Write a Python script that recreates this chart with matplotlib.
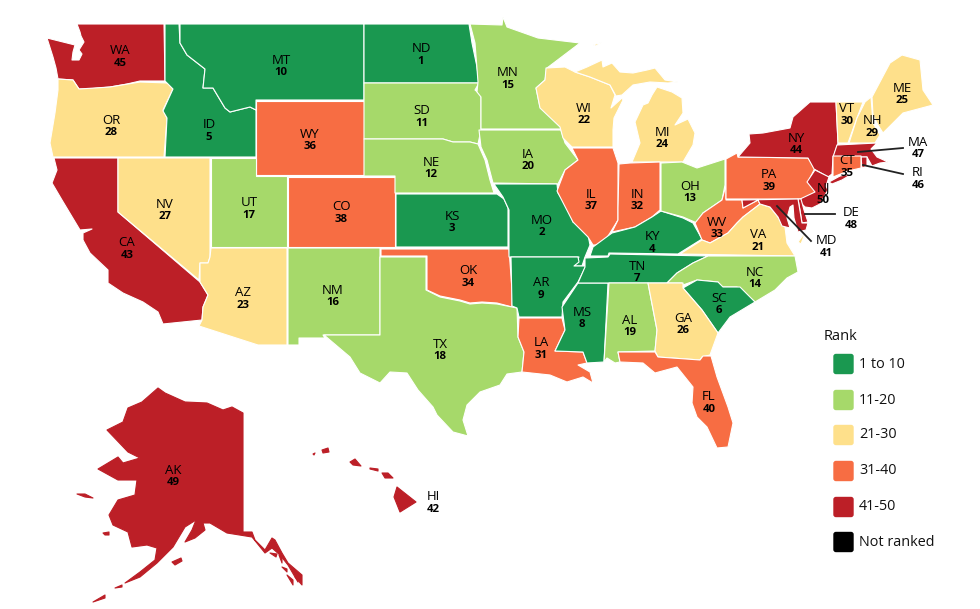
import matplotlib
matplotlib.use("Agg")
import matplotlib.pyplot as plt
from matplotlib.patches import FancyBboxPatch

plt.rcParams['font.family'] = ['Open Sans', 'DejaVu Sans']

# state, rank, label position (pixels of the picture)
states = ['WA','OR','CA','ID','NV','MT','WY','UT','AZ','CO','NM','ND','SD','NE','KS','OK','TX',
          'MN','IA','MO','AR','LA','WI','IL','MS','MI','IN','KY','TN','AL','OH','WV','VA','NC',
          'SC','GA','FL','PA','NY','VT','NH','ME','MA','RI','CT','NJ','DE','MD','AK','HI']
ranks = [45,28,43,5,27,10,36,17,23,38,16,1,11,12,3,34,18,
         15,20,2,9,31,22,37,8,24,32,4,7,19,13,33,21,14,
         6,26,40,39,44,30,29,25,47,46,35,50,48,41,49,42]
label_x = [120,111,127,209,165,281,310,249,243,341,333,421,422,431,452,468,440,
           508,528,542,541,541,584,591,582,662,637,652,637,630,690,717,758,755,
           719,683,709,769,796,847,872,902,918,918,847,823,851,826,173,433]
label_y = [51,120,243,125,204,60,134,203,293,207,290,49,111,162,216,271,344,
           73,154,220,283,343,108,194,312,132,194,237,266,320,186,222,235,272,
           298,318,397,175,138,109,121,88,142,173,161,188,213,241,470,497]

# outlines, pixel coordinates
outlines = {
 'WA': [[(77,24),(164,24),(165,81),(140,81),(127,84),(110,87),(88,89),(79,89),(73,80),(58,79),(56,68),(53,57),(47,38),(63,42),(75,45),(73,52),(72,60),(79,60),(82,54),(79,50),(84,42),(81,36),(80,32)]],
 'OR': [[(58,79),(73,80),(79,89),(110,87),(140,82),(168,83),(173,89),(163,110),(167,118),(164,157),(53,157),(50,143),(55,113),(58,90)]],
 'CA': [[(54,158),(118,158),(118,212),(200,282),(208,295),(203,307),(202,320),(163,324),(158,312),(143,302),(123,293),(108,283),(108,270),(90,253),(83,240),(83,233),(92,229),(80,230),(62,200),(52,183),(57,170)]],
 'ID': [[(165,24),(179,24),(180,43),(187,55),(205,69),(203,88),(213,88),(225,108),(230,112),(250,107),(256,110),(256,157),(165,157),(167,118),(163,111),(173,89),(165,81)]],
 'NV': [[(118,158),(210,158),(210,257),(208,263),(200,263),(199,280),(118,212)]],
 'MT': [[(180,24),(364,24),(364,100),(256,100),(256,110),(250,107),(230,112),(225,108),(213,88),(203,88),(205,69),(187,55),(180,43)]],
 'WY': [[(256,101),(364,101),(364,175),(256,175)]],
 'UT': [[(211,158),(256,158),(256,176),(287,176),(287,247),(211,247)]],
 'AZ': [[(211,248),(287,248),(287,345),(258,345),(199,326),(202,320),(203,307),(208,295),(200,282),(200,263),(208,263),(210,257)]],
 'CO': [[(288,177),(395,177),(395,247),(288,247)]],
 'NM': [[(288,248),(380,248),(380,335),(323,335),(325,338),(299,338),(299,345),(288,345)]],
 'ND': [[(364,24),(469,24),(472,43),(477,67),(479,83),(364,83)]],
 'SD': [[(364,83),(479,83),(475,90),(481,95),(481,130),(478,144),(470,142),(453,142),(443,139),(364,139)]],
 'NE': [[(364,139),(443,139),(453,142),(470,142),(478,144),(485,160),(490,180),(494,193),(395,193),(395,176),(364,176)]],
 'KS': [[(396,194),(497,194),(504,199),(508,208),(508,247),(396,247)]],
 'OK': [[(381,249),(509,249),(512,290),(512,307),(497,303),(482,302),(470,303),(460,300),(440,296),(427,290),(427,256),(381,256)]],
 'TX': [[(380,257),(426,257),(426,290),(440,297),(460,301),(470,304),(482,303),(497,304),(517,308),(518,337),(524,352),(522,372),(507,374),(500,385),(480,392),(467,405),(463,420),(468,436),(453,432),(437,415),(433,407),(418,390),(407,373),(390,372),(380,383),(360,373),(350,357),(324,335),(380,335)]],
 'MN': [[(470,24),(502,25),(503,17),(507,27),(538,38),(580,43),(547,68),(545,80),(536,88),(540,107),(560,122),(561,129),(481,129),(481,97),(477,92),(478,82),(475,43)]],
 'IA': [[(479,130),(561,130),(565,143),(578,160),(565,170),(558,184),(493,183),(487,160),(481,147)]],
 'MO': [[(494,184),(557,184),(558,193),(568,208),(573,222),(587,230),(590,245),(585,257),(582,266),(574,266),(579,257),(509,257),(509,210),(503,197)]],
 'AR': [[(511,257),(578,257),(579,262),(574,266),(586,266),(578,282),(563,302),(562,317),(519,317),(517,308),(512,306)]],
 'LA': [[(519,318),(562,318),(565,330),(555,351),(583,352),(587,363),(578,365),(590,372),(593,383),(583,377),(567,382),(550,375),(522,372),(524,352),(518,337)]],
 'WI': [[(546,68),(565,67),(575,72),(590,77),(610,85),(615,95),(611,108),(622,98),(623,100),(614,118),(613,130),(613,147),(572,147),(563,138),(560,127),(540,108),(536,88),(545,80)]],
 'IL': [[(572,148),(613,148),(618,163),(618,208),(618,220),(610,233),(602,245),(593,245),(588,237),(573,222),(557,191),(565,170),(578,160)]],
 'MS': [[(578,283),(608,283),(604,362),(587,363),(583,352),(555,351),(565,330),(562,307)]],
 'MI': [[(632,162),(640,143),(635,122),(643,105),(648,103),(652,95),(657,87),(672,92),(682,98),(683,113),(675,125),(688,119),(695,133),(693,145),(683,162)],
        [(575,72),(587,67),(602,60),(603,67),(612,63),(620,72),(633,73),(647,70),(655,68),(665,80),(678,82),(668,83),(650,82),(633,85),(622,95),(616,96),(610,85),(590,77)],
        [(593,45),(602,42),(596,46)]],
 'IN': [[(619,164),(630,163),(660,162),(660,210),(652,217),(635,227),(612,232),(618,220),(618,208)]],
 'KY': [[(593,247),(612,233),(635,227),(652,217),(661,211),(683,218),(693,223),(702,239),(678,254),(609,253),(608,256),(590,256)]],
 'TN': [[(585,258),(608,257),(610,254),(708,256),(693,263),(677,273),(667,283),(578,283),(585,267)]],
 'AL': [[(609,283),(648,283),(657,330),(655,351),(618,352),(620,362),(615,363),(607,358),(604,362)]],
 'OH': [[(661,163),(682,162),(697,168),(725,159),(725,185),(722,200),(703,213),(697,223),(683,217),(661,211)]],
 'WV': [[(695,223),(703,213),(722,200),(726,185),(726,200),(742,200),(743,208),(758,200),(760,204),(743,217),(737,223),(728,233),(710,243),(702,240)]],
 'VA': [[(680,254),(702,240),(710,243),(728,233),(737,223),(743,217),(760,204),(770,207),(778,217),(785,227),(787,243),(795,256)],
        [(798,242),(806,231),(801,244)]],
 'NC': [[(667,283),(677,273),(693,263),(708,256),(795,256),(798,272),(787,278),(775,290),(755,302),(737,287),(720,287),(718,282),(697,280),(683,285),(682,283)]],
 'SC': [[(683,288),(697,280),(718,282),(723,287),(740,287),(755,302),(730,317),(718,333),(702,310)]],
 'GA': [[(648,283),(683,283),(683,288),(702,310),(718,333),(710,355),(702,357),(700,360),(658,357),(655,351),(657,330)]],
 'FL': [[(618,352),(655,352),(658,357),(700,360),(703,356),(711,356),(717,377),(728,407),(733,423),(728,447),(717,448),(707,427),(697,417),(692,403),(693,387),(677,367),(655,373),(643,363),(620,362)]],
 'PA': [[(737,153),(738,157),(808,158),(815,168),(810,178),(816,192),(810,199),(726,199),(726,159)]],
 'NY': [[(738,157),(750,143),(749,134),(763,133),(790,128),(793,117),(810,102),(836,102),(838,143),(833,158),(832,174),(828,177),(814,169),(808,158)],
        [(829,182),(840,176),(852,174),(842,180),(832,184)]],
 'VT': [[(836,102),(863,102),(857,118),(848,143),(838,143)]],
 'NH': [[(865,102),(871,97),(873,123),(880,135),(875,143),(849,143),(857,118)]],
 'ME': [[(872,97),(890,63),(902,55),(920,60),(923,90),(933,105),(903,113),(883,133),(878,125),(873,115)]],
 'MA': [[(837,145),(877,143),(871,149),(877,157),(888,162),(880,163),(872,166),(867,157),(833,157)]],
 'RI': [[(861,157),(867,157),(867,166),(862,168)]],
 'CT': [[(833,156),(861,156),(861,168),(848,171),(833,177)]],
 'NJ': [[(815,170),(829,177),(826,186),(828,190),(820,204),(812,208),(805,207),(798,200),(815,192),(807,182)]],
 'DE': [[(798,199),(801,199),(804,210),(808,222),(802,223),(800,210)]],
 'MD': [[(742,200),(798,199),(802,223),(808,223),(806,230),(798,232),(794,218),(793,205),(790,207),(787,218),(790,228),(782,226),(778,217),(770,207),(760,204),(758,200),(743,208)]],
 'AK': [[(158,388),(165,393),(185,402),(207,403),(223,410),(232,407),(243,413),(243,532),(252,532),(255,540),(265,550),(272,538),(275,540),(282,553),(288,563),(302,575),(302,585),(295,577),(288,565),(280,555),(272,548),(265,553),(252,537),(227,533),(210,523),(203,523),(205,530),(195,538),(185,542),(192,530),(196,520),(185,527),(173,547),(157,563),(140,577),(125,583),(140,572),(155,560),(157,548),(147,545),(132,547),(128,532),(113,525),(109,515),(118,500),(135,495),(137,480),(118,480),(98,469),(118,457),(123,463),(140,458),(128,452),(107,430),(123,422),(128,408),(142,402)],
        [(172,562),(181,558),(182,561),(175,565)],[(103,533),(109,532),(109,535),(105,535)],
        [(77,494),(85,494),(93,498),(85,497)],[(115,588),(122,585),(122,587)],[(93,602),(105,595),(105,598)],
        [(270,553),(277,554),(276,557)],[(279,555),(282,556),(282,563)],[(282,567),(287,569),(287,572)],
        [(287,575),(293,580),(293,585)],[(295,577),(298,578),(298,582)]],
 'HI': [[(397,487),(416,502),(400,512),(394,497)],[(382,473),(388,473),(393,478),(385,478)],
        [(370,468),(378,469),(378,471),(370,469)],[(350,462),(355,459),(361,466),(353,465)],
        [(322,450),(328,448),(329,452),(323,453)],[(313,454),(315,453),(314,455)]],
}

# these two stand alone, a white edge only eats their small islands
no_edge = ['AK', 'HI']

# leader lines for the small north-east states
leader_states = ['MA','RI','DE','MD']
leader_from = [(858,152),(863,165),(805,214),(777,206)]
leader_to = [(903,148),(903,174),(835,214),(811,241)]

legend_labels = ['1 to 10','11-20','21-30','31-40','41-50','Not ranked']
legend_colors = ['#1a9850','#a6d96a','#fee08b','#f76d43','#bc1f27','#000000']
legend_y = [364,400,435,471,507,542]

def rank_color(r):
    return legend_colors[(r - 1) // 10]

fig = plt.figure(figsize=(9.8, 6.09), dpi=100)
ax = fig.add_axes([0, 0, 1, 1])
ax.set_xlim(0, 980)
ax.set_ylim(609, 0)
ax.axis('off')

for st, r in zip(states, ranks):
    edge = rank_color(r) if st in no_edge else 'white'
    for ring in outlines[st]:
        xs, ys = zip(*ring)
        ax.fill(xs, ys, facecolor=rank_color(r), edgecolor=edge, linewidth=0.8, joinstyle='round')

for a, b in zip(leader_from, leader_to):
    ax.plot([a[0], b[0]], [a[1], b[1]], color='#222222', lw=1.3)

for st, r, x, y in zip(states, ranks, label_x, label_y):
    ax.text(x, y, st, ha='center', va='center', fontsize=9.5, color='black')
    ax.text(x, y + 12.5, str(r), ha='center', va='center', fontsize=8.2, fontweight='bold', color='black')

ax.text(824, 336, 'Rank', ha='left', va='center', fontsize=10.5, color='#111111')
for lab, col, y in zip(legend_labels, legend_colors, legend_y):
    ax.add_patch(FancyBboxPatch((834, y - 9.5), 19, 19, boxstyle='round,pad=0,rounding_size=2',
                                facecolor=col, edgecolor=col, linewidth=1))
    ax.text(859, y, lab, ha='left', va='center', fontsize=10.4, color='#111111')

fig.savefig('out.png', dpi=100)
